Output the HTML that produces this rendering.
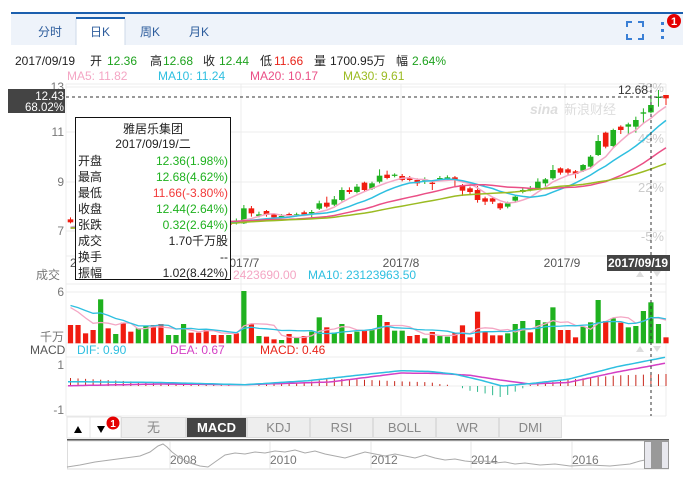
<!DOCTYPE html>
<html><head><meta charset="utf-8">
<style>
html,body{margin:0;padding:0;background:#fff;}
body{width:683px;height:477px;overflow:hidden;font-family:"Liberation Sans","Noto Sans CJK SC",sans-serif;}
svg text{font-family:"Liberation Sans","Noto Sans CJK SC",sans-serif;}
</style></head><body>
<svg id="s" width="683" height="477" viewBox="0 0 683 477" xmlns="http://www.w3.org/2000/svg">
<!-- header -->
<rect x="11" y="12" width="672" height="2" fill="#1b5fae"/>
<rect x="11" y="14" width="672" height="31" fill="#eef3fa"/>
<rect x="76" y="17" width="49" height="29" fill="#fff"/>
<rect x="76" y="17" width="49" height="2" fill="#1b5fae"/>
<line x1="76" y1="19" x2="76" y2="45" stroke="#cdd8e8"/>
<line x1="125" y1="19" x2="125" y2="45" stroke="#cdd8e8"/>
<g font-size="12" fill="#2c5c9c" text-anchor="middle">
<text x="50" y="36">分时</text><text x="100" y="36">日K</text><text x="150" y="36">周K</text><text x="199" y="36">月K</text>
</g>
<g stroke="#3a7fd5" stroke-width="2" fill="none">
<path d="M627 27v-5h5M638 22h5v5M643 34v5h-5M632 39h-5v-5"/>
</g>
<g fill="#3a7fd5"><rect x="661" y="22" width="3" height="3"/><rect x="661" y="29" width="3" height="3"/><rect x="661" y="36" width="3" height="3"/></g>
<circle cx="674" cy="21" r="7" fill="#e40000"/><text x="674" y="25" font-size="11" fill="#fff" text-anchor="middle" font-weight="bold">1</text>
<!-- info -->
<g font-size="12">
<text x="15" y="65" fill="#222">2017/09/19</text>
<text x="90" y="65" fill="#222">开</text><text x="107" y="65" fill="#1ea21e">12.36</text>
<text x="150" y="65" fill="#222">高</text><text x="163" y="65" fill="#1ea21e">12.68</text>
<text x="203" y="65" fill="#222">收</text><text x="219" y="65" fill="#1ea21e">12.44</text>
<text x="260" y="65" fill="#222">低</text><text x="274" y="65" fill="#e8241a">11.66</text>
<text x="314" y="65" fill="#222">量</text><text x="330" y="65" fill="#222">1700.95万</text>
<text x="396" y="65" fill="#222">幅</text><text x="412" y="65" fill="#1ea21e">2.64%</text>
<text x="67" y="80" fill="#f4a6c4">MA5: 11.82</text>
<text x="158" y="80" fill="#2ebfe0">MA10: 11.24</text>
<text x="250" y="80" fill="#ea4f86">MA20: 10.17</text>
<text x="343" y="80" fill="#9bbb22">MA30: 9.61</text>
</g>
<g id="grid" stroke="#ececec" stroke-width="1"></g>
<g id="plot"></g>
<g id="ov"></g>
</svg>
<script>
const NS="http://www.w3.org/2000/svg";
const S=document.getElementById('s');
function el(p,t,a,txt){const e=document.createElementNS(NS,t);for(const k in a)e.setAttribute(k,a[k]);if(txt!==undefined)e.textContent=txt;p.appendChild(e);return e;}
const G=document.getElementById('grid'),P=document.getElementById('plot'),O=document.getElementById('ov');
const L=66,R=666;
// grids
[87,132,182,231].forEach(y=>el(G,'line',{x1:L,x2:R,y1:y,y2:y}));
[292,343].forEach(y=>el(G,'line',{x1:L,x2:R,y1:y,y2:y}));
[357,386,416].forEach(y=>el(G,'line',{x1:L,x2:R,y1:y,y2:y}));
[L,241,401,565].forEach(x=>{el(G,'line',{x1:x,x2:x,y1:84,y2:416});});
el(G,'line',{x1:R,x2:R,y1:84,y2:416});
el(G,'line',{x1:L,x2:R,y1:84,y2:84});
el(G,'line',{x1:L,x2:R,y1:256,y2:256});
el(G,'line',{x1:L,x2:R,y1:284,y2:284});
// axis labels
const ax={fill:'#777','font-size':12,'text-anchor':'end'};
[[13,91],[11,136],[9,186],[7,235]].forEach(a=>el(P,'text',Object.assign({x:64,y:a[1]},ax),a[0]));
el(P,'text',Object.assign({x:64,y:296},ax),'6');
el(P,'text',Object.assign({x:64,y:341},ax),'千万');
el(P,'text',Object.assign({x:64,y:369},ax),'1');
el(P,'text',Object.assign({x:64,y:414},ax),'-1');
el(P,'text',{x:36,y:279,fill:'#777','font-size':12},'成交');
el(P,'text',{x:30,y:354,fill:'#555','font-size':12},'MACD');
el(P,'text',{x:77,y:354,fill:'#2ebfe0','font-size':12},'DIF: 0.90');
el(P,'text',{x:170,y:354,fill:'#d43fc4','font-size':12},'DEA: 0.67');
el(P,'text',{x:260,y:354,fill:'#e8241a','font-size':12},'MACD: 0.46');
el(P,'text',{x:110,y:279,fill:'#ccc','font-size':12},'MA5: 17009529.00');
el(P,'text',{x:233,y:279,fill:'#f4a6c4','font-size':12},'2423690.00');
el(P,'text',{x:308,y:279,fill:'#2ebfe0','font-size':12},'MA10: 23123963.50');
[[628,143,'49%'],[628,192,'22%'],[636,241,'-5%'],[640,92,'76%']].forEach(a=>el(P,'text',{x:664,y:a[1],'text-anchor':'end',fill:'#ccc','font-size':13},a[2]));
el(P,'text',{x:530,y:114,fill:'#ddd','font-size':14,'font-style':'italic','font-weight':'bold'},'sina');
el(P,'text',{x:564,y:114,fill:'#ddd','font-size':13},'新浪财经');
[[70,'2017/5/31','start'],[241,'2017/7','middle'],[401,'2017/8','middle'],[562,'2017/9','middle']].forEach(a=>el(P,'text',{x:a[0],y:267,'text-anchor':a[2],fill:'#555','font-size':12},a[1]));
// volume
const V=[[225,'r'],[225,'r'],[250,'r'],[240,'r'],[148,'g'],[235,'r'],[252,'g'],[218,'r'],[245,'r'],[235,'g'],[228,'g'],[225,'r'],[222,'r'],[255,'g'],[255,'g'],[222,'g'],[248,'r'],[248,'r'],[238,'r'],[255,'r'],[255,'r'],[255,'g'],[250,'r'],[123,'g'],[222,'r'],[258,'g'],[260,'r'],[268,'r'],[270,'g'],[252,'r'],[262,'g'],[258,'r'],[245,'g'],[202,'g'],[232,'r'],[248,'g'],[222,'g'],[252,'r'],[245,'g'],[242,'r'],[238,'g'],[195,'g'],[216,'r'],[242,'g'],[242,'g'],[258,'r'],[255,'r'],[265,'g'],[246,'r'],[258,'g'],[260,'g'],[248,'r'],[226,'r'],[262,'r'],[185,'r'],[246,'r'],[256,'r'],[256,'r'],[250,'g'],[222,'g'],[213,'g'],[247,'r'],[210,'g'],[217,'g'],[172,'g'],[240,'r'],[240,'r'],[262,'r'],[230,'g'],[217,'g'],[150,'g'],[213,'r'],[205,'g'],[218,'r'],[232,'g'],[228,'g'],[183,'g'],[157,'g'],[222,'g'],[262,'r']];
const N=V.length,x0=70.5,dx=(666-70.5)/(N-1);
const X=i=>x0+i*dx;
const GC='#1fb11f',RC='#f01c10';
V.forEach((v,i)=>{const t=250+v[0]/3;el(P,'rect',{x:X(i)-2.6,y:t,width:5.2,height:343.3-t,fill:v[1]=='g'?GC:RC});});
// volume MAs
function ma(arr,n,pre){const out=[];for(let i=0;i<arr.length;i++){let s=0;for(let k=i-n+1;k<=i;k++)s+=k>=0?arr[k]:pre;out.push(s/n);}return out;}
const vh=V.map(v=>343.3-(250+v[0]/3));
const line=(pts,c,w)=>el(P,'polyline',{points:pts.map(p=>p[0].toFixed(1)+','+p[1].toFixed(1)).join(' '),fill:'none',stroke:c,'stroke-width':w||1.3});
line(ma(vh,5,40).map((h,i)=>[X(i),343.3-h]),'#f4a6c4');
line(ma(vh,10,40).map((h,i)=>[X(i),343.3-h]),'#2ebfe0');
// candles
const Rt=[[385,430,375,432,'g'],[385,400,378,410,'r'],[403,408,395,412,'g'],[393,405,390,410,'r'],[403,412,400,415,'r'],[408,411,402,414,'g'],[402,407,398,412,'r'],[403,406,398,410,'g'],[397,403,392,408,'r'],[396,400,390,412,'g'],[370,386,362,390,'g'],[368,380,350,385,'r'],[358,374,348,378,'g'],[330,360,322,364,'g'],[330,336,322,342,'r'],[320,336,312,340,'g'],[308,330,305,335,'r'],[310,326,305,330,'g'],[287,305,268,310,'g'],[284,294,272,298,'r'],[284,287,280,292,'g'],[288,300,282,304,'r'],[294,300,288,304,'r'],[300,310,295,318,'r'],[298,301,292,312,'g'],[308,312,300,330,'r'],[294,297,288,302,'g'],[292,295,286,300,'g'],[292,300,288,320,'r'],[315,332,312,348,'r'],[325,336,320,345,'r'],[330,360,318,368,'r'],[355,365,350,375,'r'],[355,365,352,372,'r'],[370,385,368,390,'r'],[370,380,365,385,'g'],[350,362,345,368,'g'],[330,336,325,340,'g'],[325,328,318,334,'g'],[305,325,295,330,'g'],[298,310,294,320,'g'],[270,295,255,300,'g'],[265,278,262,284,'r'],[268,278,264,284,'r'],[274,282,270,295,'r'],[255,272,252,276,'g'],[230,260,225,264,'g'],[183,225,165,228,'g'],[158,200,155,205,'r'],[150,198,146,202,'g'],[140,150,136,162,'r'],[133,140,128,162,'g'],[120,140,110,158,'g'],[97,101,85,130,'g'],[75,97,45,100,'g'],[50,54,30,80,'g'],[45,55,45,75,'r']];
const Lc=[];const nl=N-Rt.length;
for(let i=0;i<nl;i++){const b=418+8*Math.sin(i*1.3)+ (i>15?6:0);const r=i%3!=1;Lc.push([b,b+6+3*Math.cos(i),b-6,b+12,r?'r':'g']);}
const C=Lc.concat(Rt);
const zy=z=>z/3+80;
C.forEach((c,i)=>{const x=X(i),col=c[4]=='g'?GC:RC;
 el(P,'line',{x1:x,x2:x,y1:zy(c[2]),y2:zy(c[3]),stroke:col,'stroke-width':1});
 const h=Math.max(1.2,(c[1]-c[0])/3);el(P,'rect',{x:x-2.8,y:zy(c[0]),width:5.6,height:h,fill:col});});
// MA lines from closes (zy units)
const cl=C.map(c=>c[4]=='g'?c[0]:c[1]);
const prez=445;
[[5,'#f4a6c4'],[10,'#2ebfe0'],[20,'#ea4f86'],[30,'#9bbb22']].forEach(m=>{line(ma(cl,m[0],prez).map((z,i)=>[X(i),zy(z)]),m[1],1.5);});
// MACD
const dif=[[70,381.7],[160,382.5],[245,384.7],[308,380.7],[360,375],[401,370.7],[430,371.5],[454,374],[480,380],[502,386],[533,383.3],[568,379.3],[617,366.7],[665,357.3]];
const dea=[[70,385.7],[160,384],[245,384.7],[330,382],[401,373],[440,373.5],[470,375.3],[500,380],[530,384],[568,382.5],[617,372],[665,363.3]];
function interp(pts,x){for(let i=0;i<pts.length-1;i++){if(x<=pts[i+1][0]){const t=(x-pts[i][0])/(pts[i+1][0]-pts[i][0]);return pts[i][1]+t*(pts[i+1][1]-pts[i][1]);}}return pts[pts.length-1][1];}
for(let i=0;i<N;i++){const x=X(i);const d=2*(interp(dea,x)-interp(dif,x));if(Math.abs(d)<0.5)continue;
 el(P,'line',{x1:x,x2:x,y1:386,y2:386-d,stroke:d>0?'#c8281c':'#2eb98d','stroke-width':1});}
const samp=p=>{const o=[];for(let x=68;x<=666;x+=3)o.push([x,interp(p,x)]);return o;};
line(samp(dea),'#d43fc4',1.5);line(samp(dif),'#2ebfe0',1.5);
// overlays: dashed lines & badges
el(O,'line',{x1:66,x2:666,y1:97,y2:97,stroke:'#333','stroke-dasharray':'3,3'});
el(O,'line',{x1:651,x2:651,y1:84,y2:416,stroke:'#333','stroke-dasharray':'3,3'});
el(O,'text',{x:648,y:94,'text-anchor':'end',fill:'#333','font-size':12},'12.68');
el(O,'rect',{x:8,y:89,width:57,height:24,fill:'#444'});
el(O,'text',{x:64,y:100,'text-anchor':'end',fill:'#fff','font-size':11.5},'12.43');
el(O,'text',{x:64,y:111,'text-anchor':'end',fill:'#fff','font-size':11.5},'68.02%');
el(O,'rect',{x:607,y:255,width:63,height:16,fill:'#444'});
el(O,'text',{x:638,y:267,'text-anchor':'middle',fill:'#fff','font-size':12,'font-weight':'bold'},'2017/09/19');
// small arrows
[[640,276],[657,276],[640,351],[657,351]].forEach((a,i)=>el(O,'path',{d:i%2? `M${a[0]-4} ${a[1]-5}h8l-4 6z`:`M${a[0]-4} ${a[1]+1}h8l-4 -6z`,fill:'#ddd'}));
// tooltip
el(O,'rect',{x:75.5,y:117.5,width:155,height:162,fill:'#fff',stroke:'#111'});
el(O,'text',{x:153,y:133,'text-anchor':'middle',fill:'#222','font-size':12},'雅居乐集团');
el(O,'text',{x:153,y:148,'text-anchor':'middle',fill:'#222','font-size':12},'2017/09/19/二');
const rows=[['开盘','12.36(1.98%)',GC],['最高','12.68(4.62%)',GC],['最低','11.66(-3.80%)','#f23a3a'],['收盘','12.44(2.64%)',GC],['张跌','0.32(2.64%)',GC],['成交','1.70千万股','#222'],['换手','--','#222'],['振幅','1.02(8.42%)','#222']];
rows.forEach((r,i)=>{const y=165+i*16;el(O,'text',{x:78,y:y,fill:'#222','font-size':12},r[0]);el(O,'text',{x:228,y:y,'text-anchor':'end',fill:r[2],'font-size':12},r[1]);});
// buttons
el(O,'rect',{x:67,y:417,width:54,height:21,fill:'#fff',stroke:'#e4e4e4'});
el(O,'line',{x1:90,x2:90,y1:417,y2:438,stroke:'#e4e4e4'});
el(O,'path',{d:'M74 433l4 -7l4 7z',fill:'#000'});
el(O,'path',{d:'M97 426l4 7l4 -7z',fill:'#000'});
el(O,'circle',{cx:113,cy:423,r:6.5,fill:'#e40000'});
el(O,'text',{x:113,y:427,'text-anchor':'middle',fill:'#fff','font-size':10,'font-weight':'bold'},'1');
const tabs=[['无',121,186],['MACD',186,247],['KDJ',247,310],['RSI',310,373],['BOLL',373,436],['WR',436,499],['DMI',499,562]];
tabs.forEach(t=>{const a=t[0]=='MACD';el(O,'rect',{x:t[1]+.5,y:417.5,width:t[2]-t[1]-1,height:20,fill:a?'#444':'#eee',stroke:'#ddd'});
 el(O,'text',{x:(t[1]+t[2])/2,y:432,'text-anchor':'middle',fill:a?'#fff':'#888','font-size':13,'font-weight':a?'bold':'normal'},t[0]);});
// navigator
el(O,'rect',{x:67,y:439,width:602,height:2,fill:'#555'});
el(O,'rect',{x:67.5,y:441,width:601,height:28,fill:'#fff',stroke:'#ddd'});
[170,270,371,471,572].forEach((x,i)=>{el(O,'line',{x1:x,x2:x,y1:441,y2:469,stroke:'#e6e6e6'});el(O,'text',{x:x,y:464,fill:'#777','font-size':12},2008+2*i);});
const nav=[[67,467],[80,465],[95,462],[110,460],[125,458],[140,456],[150,452],[158,446],[163,444],[167,447],[172,452],[180,458],[190,463],[200,466],[208,467],[215,462],[225,455],[235,453],[245,454],[255,452],[265,453],[275,451],[285,452],[295,450],[305,453],[315,451],[325,454],[335,456],[345,458],[355,455],[365,452],[375,454],[385,456],[395,454],[405,456],[415,458],[425,455],[435,458],[445,460],[455,459],[465,461],[475,462],[485,461],[495,463],[505,462],[515,464],[525,463],[540,465],[555,464],[570,466],[590,465],[610,466],[630,464],[640,461],[645,460],[652,459],[658,455],[662,450]];
el(O,'polyline',{points:nav.map(p=>p.join(',')).join(' '),fill:'none',stroke:'#aaa','stroke-width':1});
el(O,'rect',{x:644.5,y:441.5,width:7,height:27,fill:'#e8e8ee',stroke:'#999'});
el(O,'rect',{x:651,y:441,width:10,height:28,fill:'#999'});
el(O,'rect',{x:661.5,y:441.5,width:7,height:27,fill:'#e8e8ee',stroke:'#999'});
</script>
</body></html>
